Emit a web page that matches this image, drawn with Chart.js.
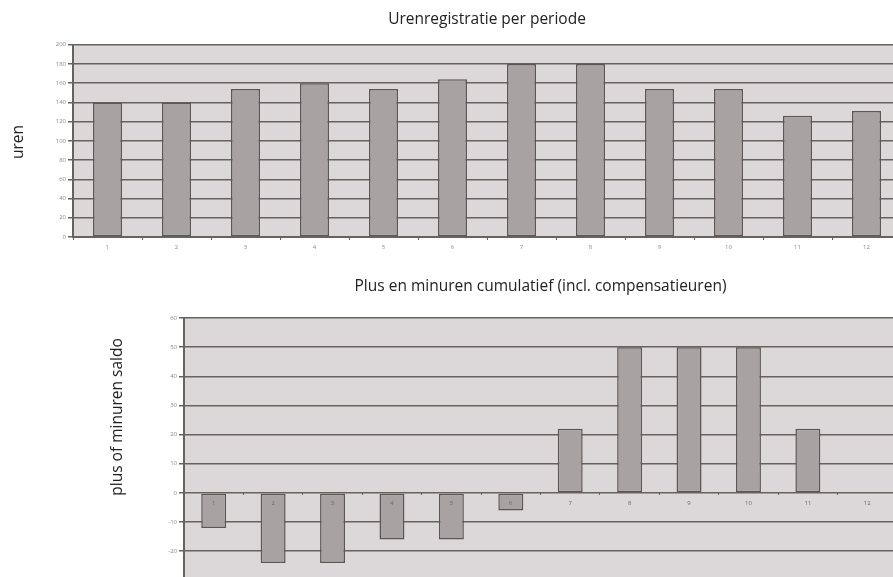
<!DOCTYPE html>
<html>
<head>
<meta charset="utf-8">
<script src="https://cdn.jsdelivr.net/npm/chart.js@4/dist/chart.umd.min.js"></script>
<style>
  html, body { margin: 0; padding: 0; background: #fff; width: 893px; height: 577px; overflow: hidden; }
  .box { position: absolute; left: 0; }
  #top-box { top: 0; width: 901px; height: 262px; }
  #bottom-box { top: 262px; width: 897px; height: 324px; }
</style>
</head>
<body>
<div class="box" id="top-box"><canvas id="hours-chart"></canvas></div>
<div class="box" id="bottom-box"><canvas id="balance-chart"></canvas></div>
<script>
// periods on the x axis
const periods = ['1', '2', '3', '4', '5', '6', '7', '8', '9', '10', '11', '12'];
// hours registered per period
const hoursPerPeriod = [140, 140, 154, 160, 154, 164, 180, 180, 154, 154, 126, 131];
// cumulative plus / minus hours
const balancePerPeriod = [-12, -24, -24, -16, -16, -6, 22, 50, 50, 50, 22, 0];
// axis ranges: [min, max, step]
const hoursAxis = [0, 200, 20];
const balanceAxis = [-30, 60, 10];

const FONT = '"Open Sans", "Noto Sans", sans-serif';
const PLOT_BG = '#dcd8d9';
const GRID = '#68625f';
const BAR_FILL = '#a8a2a2';
const BAR_EDGE = '#5c5657';
const TICK_COLOR = '#8c8888';
const TEXT_SIZE = 15.5;

// fills the plot area and writes the rotated axis caption
const plotDecor = {
  id: 'plotDecor',
  beforeDraw(chart, args, opts) {
    const {ctx, chartArea: a} = chart;
    ctx.save();
    ctx.fillStyle = PLOT_BG;
    ctx.fillRect(a.left, a.top, a.right - a.left, a.bottom - a.top);
    ctx.restore();
  },
  afterDraw(chart, args, opts) {
    const ctx = chart.ctx;
    ctx.save();
    ctx.translate(opts.x, opts.y);
    ctx.rotate(-Math.PI / 2);
    ctx.font = TEXT_SIZE + 'px ' + FONT;
    ctx.fillStyle = '#222';
    ctx.textAlign = 'center';
    ctx.textBaseline = 'middle';
    ctx.fillText(opts.text, 0, 0);
    ctx.restore();
  }
};

function barDataset(values) {
  return {
    data: values,
    backgroundColor: BAR_FILL,
    borderColor: BAR_EDGE,
    borderWidth: 1.5,
    borderSkipped: false,
    barPercentage: 1,
    categoryPercentage: 0.42
  };
}

function titleOpts(text, padTop, padBottom) {
  return {
    display: true,
    text: text,
    fullSize: false,
    color: '#222',
    font: { family: FONT, size: TEXT_SIZE, weight: 'normal', lineHeight: 1.2 },
    padding: { top: padTop, bottom: padBottom }
  };
}

const tickFont = { family: FONT, size: 6 };

// top chart: hours per period
new Chart(document.getElementById('hours-chart'), {
  type: 'bar',
  data: { labels: periods, datasets: [barDataset(hoursPerPeriod)] },
  options: {
    responsive: true,
    maintainAspectRatio: false,
    animation: false,
    layout: { padding: 0 },
    plugins: {
      legend: { display: false },
      tooltip: { enabled: false },
      title: titleOpts('Urenregistratie per periode', 10.5, 15.6),
      plotDecor: { text: 'uren', x: 19, y: 142 }
    },
    scales: {
      x: {
        afterFit: s => { s.height = 25; },
        grid: { drawOnChartArea: false, color: GRID, tickLength: 3, lineWidth: 1 },
        border: { display: true, color: GRID, width: 2 },
        ticks: { font: tickFont, color: TICK_COLOR, padding: 4 }
      },
      y: {
        min: hoursAxis[0],
        max: hoursAxis[1],
        afterFit: s => { s.width = 73; },
        ticks: { stepSize: hoursAxis[2], font: tickFont, color: TICK_COLOR, padding: 2 },
        grid: { color: GRID, lineWidth: 1.5, tickLength: 5 },
        border: { display: true, color: GRID, width: 2 }
      }
    }
  },
  plugins: [plotDecor]
});

// bottom chart: cumulative plus / minus hours
new Chart(document.getElementById('balance-chart'), {
  type: 'bar',
  data: { labels: periods, datasets: [barDataset(balancePerPeriod)] },
  options: {
    responsive: true,
    maintainAspectRatio: false,
    animation: false,
    layout: { padding: 0 },
    plugins: {
      legend: { display: false },
      tooltip: { enabled: false },
      title: titleOpts('Plus en minuren cumulatief (incl. compensatieuren)', 15.7, 21.7),
      plotDecor: { text: 'plus of minuren saldo', x: 118, y: 155 }
    },
    scales: {
      x: {
        position: { y: 0 },
        z: 1,
        grid: { drawOnChartArea: false, color: GRID, tickLength: 2, lineWidth: 1, z: 1 },
        border: { display: false },
        ticks: { font: tickFont, color: '#6e6869', padding: 5, z: 1 }
      },
      y: {
        min: balanceAxis[0],
        max: balanceAxis[1],
        afterFit: s => { s.width = 184; },
        ticks: { stepSize: balanceAxis[2], font: tickFont, color: TICK_COLOR, padding: 2 },
        grid: { color: GRID, lineWidth: 1.5, tickLength: 5 },
        border: { display: true, color: GRID, width: 2 }
      }
    }
  },
  plugins: [plotDecor]
});
</script>
</body>
</html>
